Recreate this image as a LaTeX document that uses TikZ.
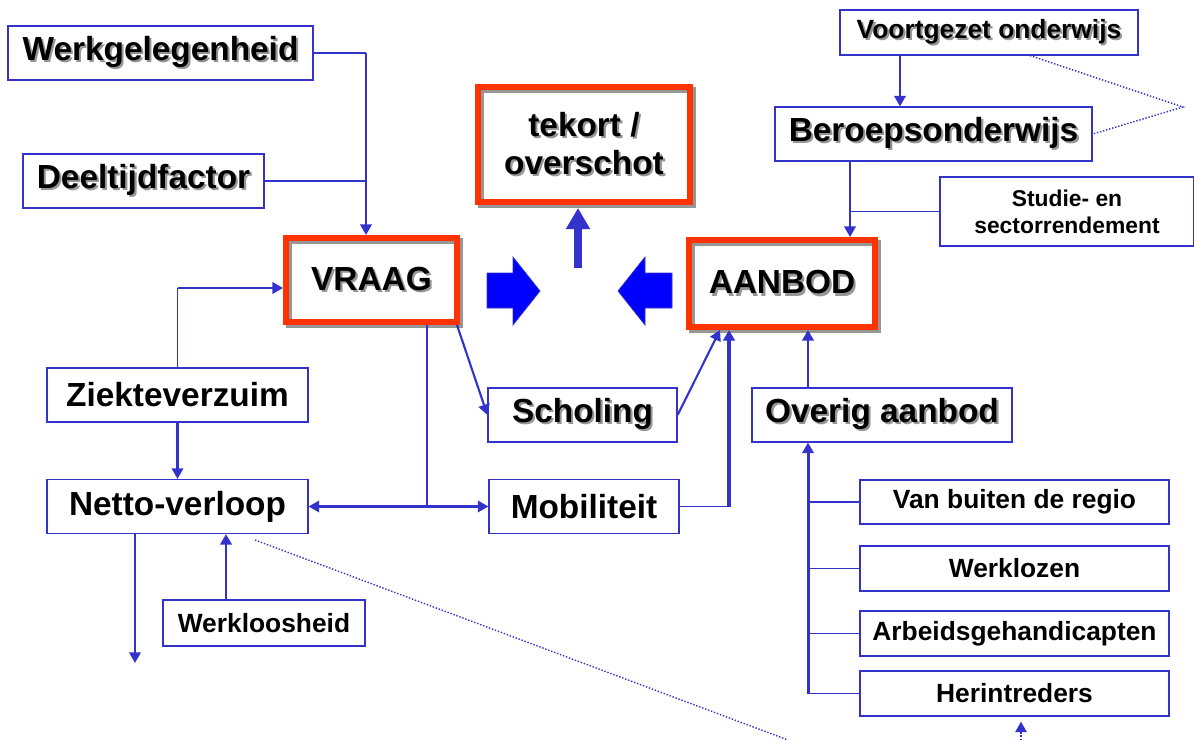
\documentclass[tikz,border=0pt]{standalone}
\usepackage{fontspec}
\setmainfont{Liberation Sans}
\usetikzlibrary{arrows.meta}
\definecolor{line-blue}{RGB}{51,51,204}
\definecolor{frame-red}{RGB}{255,51,0}
\definecolor{arrow-blue}{RGB}{0,0,255}
\definecolor{shade-gray}{RGB}{150,150,150}
\newcommand{\shadowed}[1]{\makebox[0pt][l]{\hspace{1.2pt}\raisebox{-1.2pt}{\color{shade-gray}#1}}#1}
\tikzset{
    plain-box/.style = {draw=line-blue, line width=0.7pt, fill=white, rectangle, inner sep=2pt, font=\fontsize{19}{22}\selectfont\bfseries},
    mid-box/.style = {plain-box, font=\fontsize{15}{18}\selectfont\bfseries},
    small-box/.style = {plain-box, align=center, font=\fontsize{13}{15.5}\selectfont\bfseries},
    red-box/.style = {draw=frame-red, line width=3.4pt, rectangle, align=center, font=\fontsize{19}{22}\selectfont\bfseries,
        preaction={draw=shade-gray, line width=3.4pt, transform canvas={shift={(1.6pt,-1.6pt)}}}},
    link/.style = {draw=line-blue, line width=0.6pt},
    link-arrow/.style = {draw=line-blue, line width=1.2pt, -{Triangle[length=6pt, width=6.5pt]}},
    dot-link/.style = {draw=line-blue, line width=0.8pt, densely dotted},
    big-up/.style = {draw=line-blue, line width=4pt, -{Triangle[length=12pt, width=13pt]}},
    block-arrow/.style = {fill=arrow-blue, draw=line-blue, line width=0.4pt},
}
\begin{document}
\begin{tikzpicture}[x=0.02cm, y=-0.02cm]
\useasboundingbox (0,0) rectangle (1194,740);
% demand side
\node[plain-box, minimum width=6.1cm, minimum height=1.08cm] (werk) at (160.5,53) {\shadowed{Werkgelegenheid}};
\node[plain-box, minimum width=4.82cm, minimum height=1.08cm] (deeltijd) at (143.5,181) {\shadowed{Deeltijdfactor}};
\node[red-box, minimum width=3.42cm, minimum height=1.68cm] (vraag) at (371.5,280) {\shadowed{VRAAG}};
\node[plain-box, minimum width=5.22cm, minimum height=1.08cm] (zieke) at (177.5,395) {Ziekteverzuim};
\node[plain-box, minimum width=5.22cm, minimum height=1.08cm] (netto) at (177.5,506.5) {Netto-verloop};
\node[mid-box, minimum width=4.04cm, minimum height=0.92cm] (werkloosheid) at (264,623) {Werkloosheid};
% balance
\node[red-box, minimum width=4.24cm, minimum height=2.3cm] (tekort) at (584,144.5) {\shadowed{tekort /}\\\shadowed{overschot}};
\node[plain-box, minimum width=3.78cm, minimum height=1.08cm] (scholing) at (582.5,415) {\shadowed{Scholing}};
\node[plain-box, minimum width=3.8cm, minimum height=1.08cm] (mobiliteit) at (584,506.5) {Mobiliteit};
% supply side
\node[mid-box, minimum width=5.96cm, minimum height=0.9cm] (voortgezet) at (989,32.5) {\shadowed{Voortgezet onderwijs}};
\node[plain-box, minimum width=6.34cm, minimum height=1.08cm] (beroeps) at (933.5,134) {\shadowed{Beroepsonderwijs}};
\node[small-box, minimum width=5.08cm, minimum height=1.38cm] (studie) at (1067,211.5) {Studie- en\\sectorrendement};
\node[red-box, minimum width=3.72cm, minimum height=1.74cm] (aanbod) at (782,283.5) {\shadowed{AANBOD}};
\node[plain-box, minimum width=5.2cm, minimum height=1.08cm] (overig) at (882,415) {\shadowed{Overig aanbod}};
\node[mid-box, minimum width=6.18cm, minimum height=0.88cm] (vanbuiten) at (1014.5,502) {Van buiten de regio};
\node[mid-box, minimum width=6.18cm, minimum height=0.9cm] (werklozen) at (1014.5,568.5) {Werklozen};
\node[mid-box, minimum width=6.18cm, minimum height=0.9cm] (arbeids) at (1014.5,633.5) {Arbeidsgehandicapten};
\node[mid-box, minimum width=6.18cm, minimum height=0.9cm] (herintreders) at (1014.5,693.5) {Herintreders};

% block arrows towards the balance
\fill[block-arrow] (487,273) -- (513,273) -- (513,257) -- (540,291) -- (513,325) -- (513,308) -- (487,308) -- cycle;
\fill[block-arrow] (672,273) -- (645,273) -- (645,257) -- (618,291) -- (645,325) -- (645,308) -- (672,308) -- cycle;
\coordinate (tekort-foot) at (578,268);
\draw[big-up] (tekort-foot) -- ([yshift=-0.06cm]tekort.south -| tekort-foot);

% demand links
\coordinate (werk-join) at (366,53);
\draw[link] (werk.east) -- (werk-join);
\draw[link] (deeltijd.east) -- (deeltijd.east -| werk-join);
\draw[link-arrow] (werk-join) -- (werk-join |- vraag.north);
\coordinate (zieke-bend) at (177.5,288);
\draw[link] (zieke.north) -- (zieke-bend);
\draw[link-arrow] (zieke-bend) -- (zieke-bend -| vraag.west);
\draw[link-arrow] (zieke) -- (netto);
\coordinate (vraag-drop) at (427,506.5);
\draw[link] (vraag.south -| vraag-drop) -- (vraag-drop);
\draw[link-arrow, {Triangle[length=6pt, width=6.5pt]}-{Triangle[length=6pt, width=6.5pt]}] (netto.east) -- (mobiliteit.west);
\draw[link-arrow] ([xshift=-0.06cm]vraag.south east) -- (scholing.west);
\coordinate (netto-out) at (135,663);
\draw[link-arrow] (netto.south -| netto-out) -- (netto-out);
\coordinate (werkloos-rise) at (226,0);
\draw[link-arrow, line width=1.7pt] (werkloosheid.north -| werkloos-rise) -- (netto.south -| werkloos-rise);
\coordinate (verloop-dot) at (255,540);
\coordinate (verloop-end) at (788,740);
\draw[dot-link] (verloop-dot) -- (verloop-end);

% supply links
\draw[link-arrow] (scholing.east) -- ([xshift=0.68cm]aanbod.south west);
\coordinate (mob-rise) at (729,506.5);
\draw[link] (mobiliteit.east) -- (mob-rise);
\draw[link-arrow, line width=2.2pt] (mob-rise) -- (mob-rise |- aanbod.south);
\coordinate (overig-rise) at (808,0);
\draw[link-arrow] (overig.north -| overig-rise) -- (aanbod.south -| overig-rise);
\coordinate (trunk-foot) at (808,693.5);
\draw[link-arrow, line width=1.7pt] (trunk-foot) -- (trunk-foot |- overig.south);
\foreach \src in {vanbuiten, werklozen, arbeids, herintreders}
    \draw[link] (\src.west) -- (\src.west -| trunk-foot);
\coordinate (beroeps-drop) at (850,0);
\draw[link-arrow] (beroeps.south -| beroeps-drop) -- (aanbod.north -| beroeps-drop);
\draw[link] (studie.west) -- (studie.west -| beroeps-drop);
\coordinate (voortgezet-drop) at (900,0);
\draw[link-arrow] (voortgezet.south -| voortgezet-drop) -- (beroeps.north -| voortgezet-drop);
\coordinate (voortgezet-dot) at (1030,0);
\coordinate (dot-tip) at (1183,107);
\draw[dot-link] (voortgezet.south -| voortgezet-dot) -- (dot-tip) -- (beroeps.east);
\coordinate (her-dot) at (1021,740);
\draw[dot-link, -{Triangle[length=6pt, width=6.5pt]}] (her-dot) -- ([yshift=-0.1cm]herintreders.south -| her-dot);
\end{tikzpicture}
\end{document}
